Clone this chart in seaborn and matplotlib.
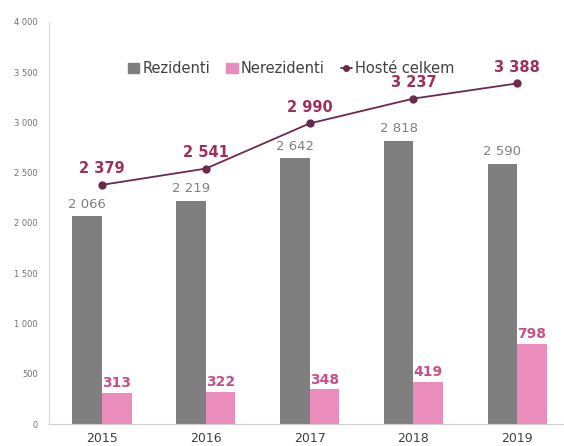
import pandas as pd
import matplotlib.pyplot as plt
import seaborn as sns
from matplotlib.lines import Line2D
from matplotlib.patches import Patch

years = ['2015', '2016', '2017', '2018', '2019']
rezidenti = [2066, 2219, 2642, 2818, 2590]
nerezidenti = [313, 322, 348, 419, 798]
celkem = [2379, 2541, 2990, 3237, 3388]

grey = '#7f7f7f'
pink = '#ea8dbd'
line_col = '#6b2a4c'
lab_col = '#9e2f5e'
pink_lab = '#c8508a'

def fmt(v):
    return f'{v:,}'.replace(',', ' ')

df = pd.DataFrame({
    'year': years * 2,
    'value': rezidenti + nerezidenti,
    'series': ['Rezidenti'] * 5 + ['Nerezidenti'] * 5,
})

sns.set_style('white')
plt.rcParams['font.family'] = ['DejaVu Sans']

fig = plt.figure(figsize=(5.64, 4.46), dpi=100)
ax = fig.add_axes([0.087, 0.049, 0.913, 0.902])

sns.barplot(data=df, x='year', y='value', hue='series', palette=[grey, pink],
            width=0.57, saturation=1, linewidth=0, edgecolor='none', ax=ax, legend=False)
sns.pointplot(x=years, y=celkem, color=line_col, markers='o', linewidth=1.3,
              markersize=5, ax=ax)

off = 0.1425
for i in range(len(years)):
    ax.text(i - off, rezidenti[i] + 55, fmt(rezidenti[i]), ha='center', va='bottom',
            fontsize=9.5, color='#808080')
    ax.text(i + off, nerezidenti[i] + 25, fmt(nerezidenti[i]), ha='center', va='bottom',
            fontsize=10, color=pink_lab, fontweight='bold')
    ax.text(i, celkem[i] + 85, fmt(celkem[i]), ha='center', va='bottom',
            fontsize=10.5, color=lab_col, fontweight='bold')

ax.set_ylim(0, 4000)
ax.set_xlim(-0.51, 4.45)
ax.set_yticks(range(0, 4001, 500))
ax.set_yticklabels([fmt(v) for v in range(0, 4001, 500)], fontsize=6, color='#707070')
ax.tick_params(axis='x', labelsize=9, colors='#404040', length=0, pad=6)
ax.tick_params(axis='y', length=0, pad=8)
ax.set_xlabel('')
ax.set_ylabel('')
for s in ['top', 'right']:
    ax.spines[s].set_visible(False)
ax.spines['left'].set_color('#d9d9d9')
ax.spines['bottom'].set_color('#d0d0d0')

handles = [
    Patch(color=grey, label='Rezidenti'),
    Patch(color=pink, label='Nerezidenti'),
    Line2D([0], [0], color=line_col, marker='o', markersize=4, lw=1.3, label='Hosté celkem'),
]
ax.legend(handles=handles, loc='upper center', bbox_to_anchor=(0.47, 0.935), ncol=3,
          frameon=False, fontsize=10.5, handlelength=0.8, handletextpad=0.2,
          columnspacing=1.1, handleheight=0.6, labelcolor='#404040')

fig.savefig('out.png', dpi=100)
